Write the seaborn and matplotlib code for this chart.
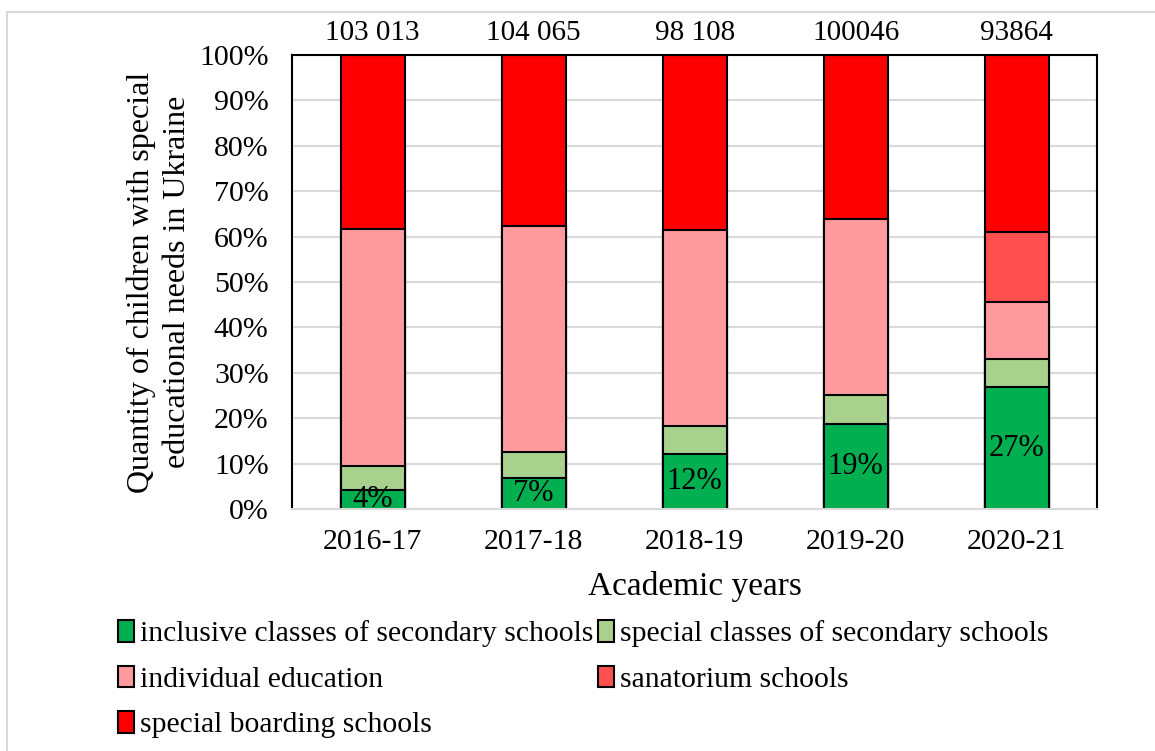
import matplotlib.pyplot as plt
import seaborn as sns
import pandas as pd

sns.set_theme(style='white')
plt.rcParams['font.family'] = ['Liberation Serif', 'DejaVu Serif']
plt.rcParams['text.color'] = 'black'
plt.rcParams['axes.labelcolor'] = 'black'
plt.rcParams['xtick.color'] = 'black'
plt.rcParams['ytick.color'] = 'black'

# data (shares in %)
years = ['2016-17', '2017-18', '2018-19', '2019-20', '2020-21']
totals = ['103 013', '104 065', '98 108', '100046', '93864']
inclusive = [4.2, 6.9, 12.1, 18.7, 26.8]
specialClasses = [5.3, 5.7, 6.2, 6.4, 6.3]
individual = [52.2, 49.7, 43.2, 38.8, 12.6]
sanatorium = [0, 0, 0, 0, 15.2]
boarding = [38.3, 37.7, 38.5, 36.1, 39.1]
inclusiveLabels = ['4%', '7%', '12%', '19%', '27%']

names = ['inclusive classes of secondary schools', 'special classes of secondary schools',
         'individual education', 'sanatorium schools', 'special boarding schools']
colors = ['#00B050', '#A9D18E', '#FF9B9E', '#FF5050', '#FF0000']

df = pd.DataFrame({'year': years, names[0]: inclusive, names[1]: specialClasses,
                   names[2]: individual, names[3]: sanatorium, names[4]: boarding})
cum = df[names].cumsum(axis=1)

fig, ax = plt.subplots(figsize=(11.55, 7.51), dpi=100)
fig.subplots_adjust(left=0.253, right=0.950, top=0.927, bottom=0.322)

# stacked bars: draw cumulative totals from the top layer down
handles = {}
for name, col in reversed(list(zip(names, colors))):
    sns.barplot(x=df['year'], y=cum[name], order=years, color=col, saturation=1,
                width=0.4, edgecolor='black', linewidth=1.5, ax=ax)
    handles[name] = plt.Rectangle((0, 0), 1, 1, facecolor=col, edgecolor='black', linewidth=1.5)

# labels on the inclusive (green) segments
ax.bar_label(ax.containers[-1], labels=inclusiveLabels, label_type='center',
             fontsize=22, color='black', clip_on=True)

# totals above bars
for i, t in enumerate(totals):
    ax.text(i, 104.8, t, ha='center', va='center', fontsize=21, clip_on=False)

ax.set_ylim(0, 100)
ax.set_xlim(-0.5, 4.5)
ax.set_yticks(range(0, 101, 10))
ax.set_yticklabels([f'{v}%' for v in range(0, 101, 10)])
ax.tick_params(axis='y', length=0, pad=17, labelsize=21.5)
ax.tick_params(axis='x', length=0, pad=14, labelsize=21.5)
ax.yaxis.grid(True, color='#d9d9d9', linewidth=1.5)
ax.set_axisbelow(True)

for s in ['top', 'left', 'right']:
    ax.spines[s].set_color('black')
    ax.spines[s].set_linewidth(1.5)
ax.spines['bottom'].set_color('#d9d9d9')
ax.spines['bottom'].set_linewidth(1.5)

ax.set_xlabel('Academic years', fontsize=24, labelpad=12)
ax.set_ylabel('Quantity of children with special\neducational needs in Ukraine',
              fontsize=23, linespacing=1.35)
ax.yaxis.set_label_coords(-0.124, 0.5)

# legend, row-wise order in 2 columns
order = [names[0], names[2], names[4], names[1], names[3]]
fig.legend([handles[n] for n in order], order, ncol=2, loc='upper left',
           bbox_to_anchor=(0.092, 0.19), frameon=False, fontsize=21.3,
           handlelength=0.55, handleheight=0.75, handletextpad=0.2,
           columnspacing=0.15, labelspacing=0.62, borderaxespad=0)

# faint outer frame of the picture
fig.add_artist(plt.Line2D([0.006, 0.006], [0, 0.984], transform=fig.transFigure, color='#d9d9d9', lw=1.5))
fig.add_artist(plt.Line2D([0.006, 1], [0.984, 0.984], transform=fig.transFigure, color='#d9d9d9', lw=1.5))

plt.savefig('out.png', dpi=100)
